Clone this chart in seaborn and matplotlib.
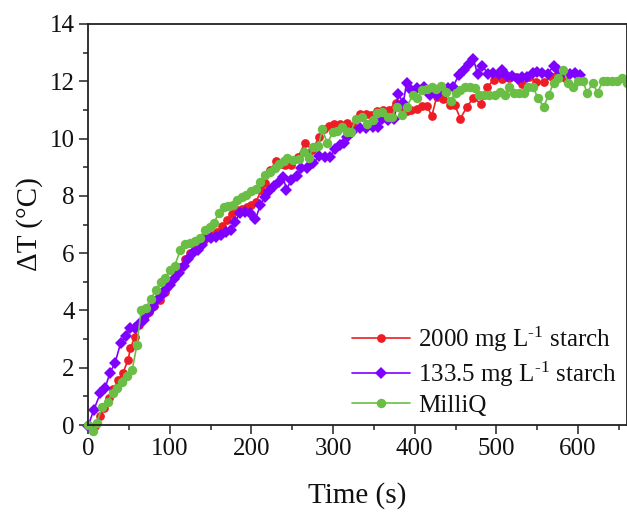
import matplotlib
matplotlib.use("Agg")
import matplotlib.pyplot as plt
import seaborn as sns
import pandas as pd

# ---- data ----
t_red = [0, 9, 15, 20, 26, 31, 37, 43, 49, 52, 57, 63, 69, 75, 81, 88, 94, 100, 106, 113,
         119, 125, 131, 137, 142, 147, 153, 158, 164, 170, 176, 182, 189, 195, 200, 206, 212,
         217, 223, 230, 236, 241, 249, 257, 266, 274, 283, 289, 295, 301, 309, 317, 325, 333,
         340, 347, 354, 361, 368, 377, 384, 390, 396, 403, 409, 415, 421, 427, 435, 443, 449,
         456, 464, 472, 481, 489, 497, 507, 515, 524, 532, 540, 549, 558, 568, 575, 584]
y_red = [0.0, -0.05, 0.3, 0.6, 0.95, 1.25, 1.57, 1.83, 2.27, 2.68, 3.06, 3.49, 3.72, 3.93,
         4.15, 4.36, 4.65, 4.95, 5.3, 5.5, 5.78, 6.0, 6.2, 6.34, 6.46, 6.57, 6.63, 6.75, 6.95,
         7.15, 7.38, 7.5, 7.55, 7.62, 7.68, 7.8, 8.2, 8.45, 8.9, 9.2, 9.1, 9.06, 9.08, 9.35,
         9.86, 9.6, 10.04, 10.32, 10.45, 10.51, 10.51, 10.53, 10.45, 10.86, 10.86, 10.82,
         10.97, 11.0, 11.0, 11.25, 11.1, 10.97, 11.0, 11.02, 11.14, 11.14, 10.79, 11.46, 11.37,
         11.17, 11.17, 10.7, 11.11, 11.43, 11.21, 11.81, 12.05, 12.07, 12.1, 12.16, 11.9, 12.14,
         11.99, 11.99, 12.14, 12.3, 12.1]

t_pur = [0, 7, 15, 21, 27, 33, 40, 46, 51, 57, 63, 68, 74, 79, 84, 90, 95, 100, 105, 111,
         117, 123, 129, 135, 139, 145, 151, 157, 163, 169, 175, 180, 186, 192, 198, 205, 211,
         217, 222, 228, 234, 239, 243, 249, 256, 261, 268, 276, 283, 290, 296, 303, 308, 313,
         317, 323, 333, 341, 349, 355, 360, 367, 375, 380, 386, 390, 396, 403, 411, 419, 427,
         435, 441, 447, 454, 460, 466, 472, 477, 483, 490, 496, 503, 507, 513, 519, 526, 532,
         538, 545, 550, 556, 563, 570, 576, 583, 590, 596, 602]
y_pur = [-0.05, 0.52, 1.1, 1.3, 1.83, 2.16, 2.86, 3.1, 3.37, 3.37, 3.52, 3.67, 3.9, 4.11,
         4.36, 4.54, 4.75, 4.89, 5.08, 5.3, 5.55, 5.78, 6.0, 6.1, 6.3, 6.57, 6.52, 6.57, 6.63,
         6.75, 6.81, 7.1, 7.39, 7.45, 7.39, 7.18, 7.68, 7.97, 8.18, 8.34, 8.5, 8.65, 8.22, 8.55,
         8.7, 8.96, 8.96, 9.13, 9.39, 9.37, 9.35, 9.63, 9.78, 9.83, 10.07, 10.24, 10.36, 10.36,
         10.39, 10.4, 10.7, 10.65, 10.67, 11.56, 11.23, 11.93, 11.7, 11.75, 11.81, 11.52, 11.52,
         11.72, 11.75, 11.81, 12.22, 12.4, 12.6, 12.77, 12.26, 12.53, 12.26, 12.28, 12.26,
         12.41, 12.19, 12.19, 12.07, 12.14, 12.16, 12.28, 12.34, 12.28, 12.26, 12.53, 12.41,
         12.34, 12.26, 12.28, 12.22]

t_grn = [0, 6, 11, 17, 24, 30, 36, 42, 48, 54, 60, 65, 71, 77, 83, 89, 94, 100, 106, 113,
         119, 125, 131, 137, 143, 149, 154, 160, 166, 172, 178, 183, 188, 194, 200, 206, 210,
         217, 223, 229, 234, 240, 244, 251, 258, 264, 270, 276, 282, 287, 293, 300, 305, 311,
         317, 322, 328, 335, 342, 349, 354, 360, 367, 372, 378, 384, 390, 398, 403, 409, 415,
         421, 426, 432, 438, 444, 450, 456, 462, 468, 474, 479, 485, 491, 498, 504, 510, 516,
         522, 528, 534, 539, 545, 551, 558, 564, 570, 576, 582, 588, 594, 600, 606, 611, 618,
         624, 630, 636, 642, 648, 654, 660]
y_grn = [0.0, -0.2, 0.08, 0.62, 0.81, 1.1, 1.3, 1.5, 1.71, 1.92, 2.8, 4.0, 4.1, 4.4, 4.72,
         5.0, 5.12, 5.4, 5.55, 6.1, 6.32, 6.37, 6.44, 6.52, 6.8, 6.92, 7.04, 7.39, 7.6, 7.65,
         7.68, 7.86, 7.97, 8.03, 8.18, 8.23, 8.5, 8.73, 8.85, 8.96, 9.1, 9.2, 9.31, 9.25, 9.28,
         9.54, 9.31, 9.72, 9.74, 10.32, 9.83, 10.24, 10.28, 10.42, 10.24, 10.24, 10.7, 10.74,
         10.51, 10.65, 10.9, 10.94, 10.74, 10.76, 11.11, 10.82, 11.11, 11.52, 11.4, 11.7, 11.72,
         11.81, 11.72, 11.85, 11.61, 11.31, 11.6, 11.7, 11.79, 11.81, 11.75, 11.52, 11.52,
         11.52, 11.52, 11.64, 11.52, 11.81, 11.6, 11.6, 11.6, 11.81, 11.81, 11.4, 11.11, 11.52,
         11.93, 12.1, 12.41, 11.93, 11.81, 12.02, 12.02, 11.6, 11.93, 11.6, 12.0, 12.0, 12.0,
         12.0, 12.13, 11.93]

labels = ["2000 mg L$^{\\text{-}1}$ starch", "133.5 mg L$^{\\text{-}1}$ starch", "MilliQ"]
colors = ["#EE1D25", "#7F00FF", "#6ABE45"]
markers = ["o", "D", "o"]
x_ticks = [0, 100, 200, 300, 400, 500, 600]
y_ticks = [0, 2, 4, 6, 8, 10, 12, 14]

# ---- style ----
sns.set_style("ticks")
plt.rcParams["font.family"] = ["Liberation Serif", "DejaVu Serif"]
plt.rcParams["mathtext.fontset"] = "custom"
plt.rcParams["mathtext.rm"] = "Liberation Serif"
plt.rcParams["mathtext.it"] = "Liberation Serif:italic"

fig = plt.figure(figsize=(6.27, 5.13), dpi=100)
ax = fig.add_axes([88 / 627, 1 - 425 / 513, 539 / 627, 401 / 513])

series = [(t_red, y_red), (t_pur, y_pur), (t_grn, y_grn)]
msizes = [6.3, 6.0, 6.8]
for (tx, ty), lab, c, m, ms in zip(series, labels, colors, markers, msizes):
    df = pd.DataFrame({"t": tx, "y": ty})
    sns.lineplot(data=df, x="t", y="y", ax=ax, color=c, marker=m, markersize=ms,
                 markeredgewidth=0, linewidth=1.2, label=lab, estimator=None,
                 sort=False, clip_on=False)

ax.set_xlim(0, 660)
ax.set_ylim(0, 14)
ax.set_xticks(x_ticks)
ax.set_yticks(y_ticks)
ax.set_xticks([50, 150, 250, 350, 450, 550, 650], minor=True)
ax.set_yticks([1, 3, 5, 7, 9, 11, 13], minor=True)
ax.tick_params(axis="both", which="major", direction="out", length=6.5, width=1.1,
               labelsize=18, pad=3, color="#222222", labelcolor="#111111")
ax.tick_params(axis="both", which="minor", direction="out", length=3.8, width=1.1,
               color="#222222")
for s in ["left", "bottom", "top", "right"]:
    ax.spines[s].set_linewidth(1.3)
    ax.spines[s].set_color("#222222")

ax.set_xlabel("Time (s)", fontsize=21, labelpad=16, color="#111111")
ax.set_ylabel("ΔT (°C)", fontsize=21, labelpad=5, color="#111111")

leg = ax.legend(loc="lower right", bbox_to_anchor=(1.009, -0.017), frameon=False,
                fontsize=18, handlelength=2.35, handletextpad=0.3, labelspacing=0.22,
                borderaxespad=0.2)
for txt in leg.get_texts():
    txt.set_color("#111111")

fig.savefig("out.png", dpi=100)
